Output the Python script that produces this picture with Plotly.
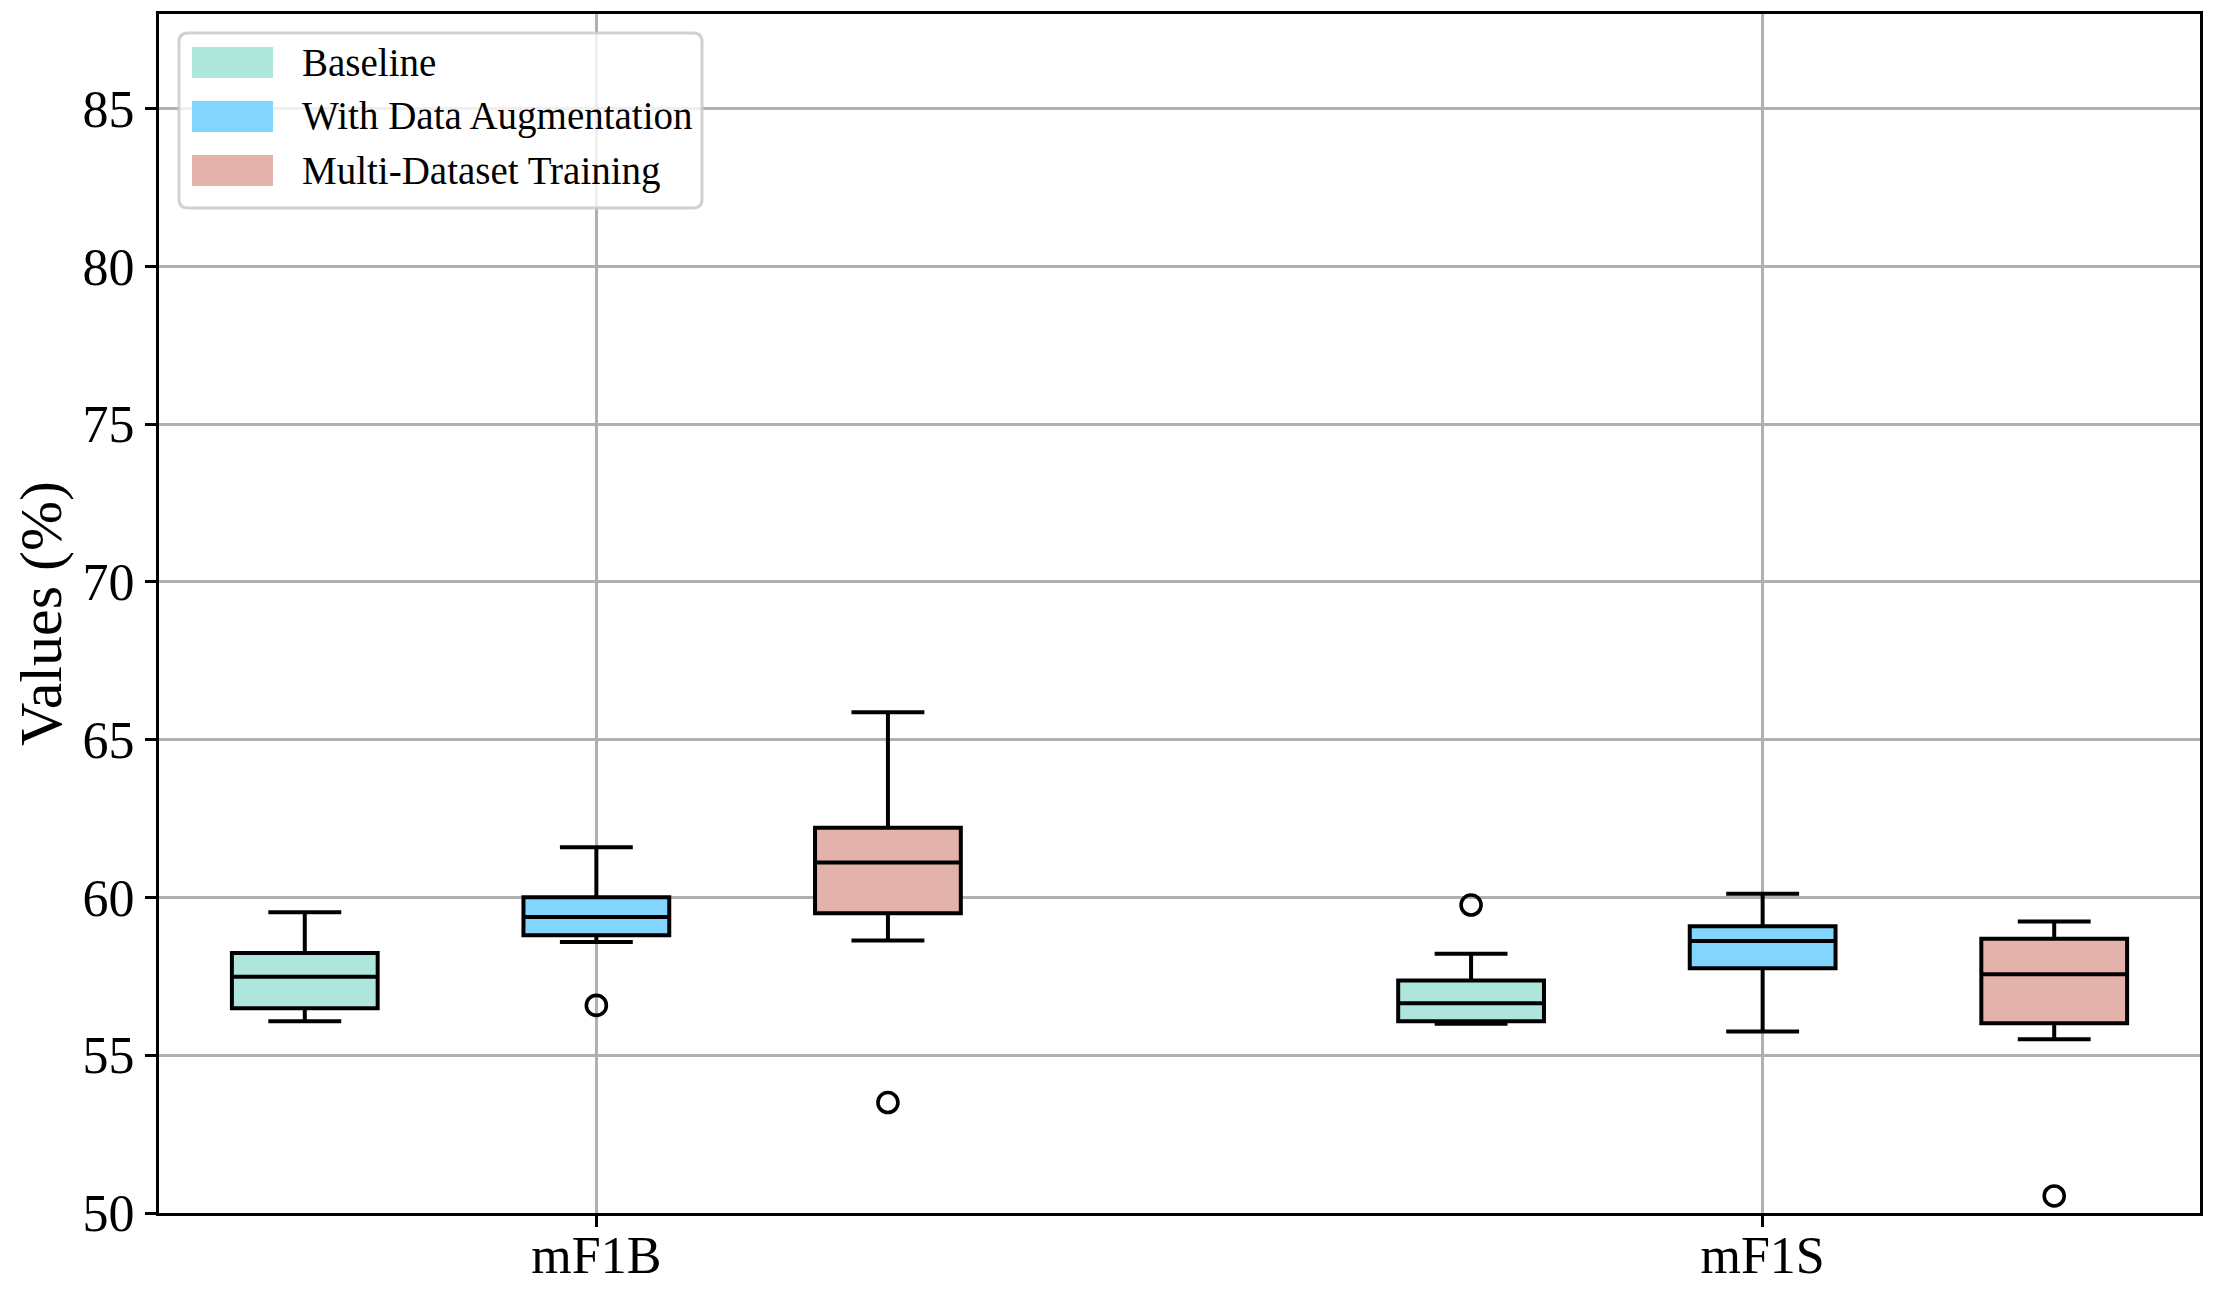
import plotly.graph_objects as go

# ---------------- data ----------------
groups = ["mF1B", "mF1S"]
series = ["Baseline", "With Data Augmentation", "Multi-Dataset Training"]

baseline_lower = [56.08, 56.00]
baseline_q1 = [56.49, 56.08]
baseline_median = [57.49, 56.65]
baseline_q3 = [58.24, 57.37]
baseline_upper = [59.53, 58.22]
baseline_outliers = [[], [59.76]]

aug_lower = [58.59, 55.75]
aug_q1 = [58.80, 57.76]
aug_median = [59.38, 58.62]
aug_q3 = [60.01, 59.09]
aug_upper = [61.59, 60.12]
aug_outliers = [[56.58], []]

multi_lower = [58.64, 55.51]
multi_q1 = [59.50, 56.01]
multi_median = [61.11, 57.57]
multi_q3 = [62.21, 58.69]
multi_upper = [65.87, 59.24]
multi_outliers = [[53.50], [50.54]]

y_ticks = [50, 55, 60, 65, 70, 75, 80, 85]

# ---------------- style ----------------
colors = ["#AFE6DC", "#83D5FE", "#E3B2AB"]
offsets = [-0.25, 0.0, 0.25]
FONT = "Liberation Serif"
PAGE_W, PAGE_H = 2215, 1295
BODY = 8                      # default body margin of the html page
W, H = PAGE_W - 2 * BODY, PAGE_H - 2 * BODY
# plot area in page pixels
PL, PR, PT, PB = 159, 2200, 14, 1213
ML, MR, MT, MB = PL - BODY, (BODY + W) - PR, PT - BODY, (BODY + H) - PB

stats = [
    (baseline_lower, baseline_q1, baseline_median, baseline_q3, baseline_upper, baseline_outliers),
    (aug_lower, aug_q1, aug_median, aug_q3, aug_upper, aug_outliers),
    (multi_lower, multi_q1, multi_median, multi_q3, multi_upper, multi_outliers),
]

fig = go.Figure()
for i, (name, (lo, q1, med, q3, up, outl)) in enumerate(zip(series, stats)):
    xs = [g + offsets[i] for g in range(len(groups))]
    fig.add_trace(go.Box(
        name=name,
        x=xs, q1=q1, median=med, q3=q3, lowerfence=lo, upperfence=up,
        width=0.125, whiskerwidth=0.5,
        fillcolor=colors[i],
        line=dict(color="black", width=4),
        boxpoints=False,
        showlegend=False,
    ))
    ox, oy = [], []
    for g, vals in enumerate(outl):
        for v in vals:
            ox.append(g + offsets[i])
            oy.append(v)
    if ox:
        fig.add_trace(go.Scatter(
            x=ox, y=oy, mode="markers",
            marker=dict(symbol="circle-open", size=20, color="black",
                        line=dict(color="black", width=3.6)),
            showlegend=False,
        ))

# ---------------- manual legend ----------------
def px(xp):
    return (xp - PL) / (PR - PL)

def py(yp):
    return (PB - yp) / (PB - PT)

# rounded legend frame
x0, x1, y0, y1, r = 179, 702, 33, 208, 9
path = (f"M {px(x0 + r)} {py(y0)} L {px(x1 - r)} {py(y0)} "
        f"Q {px(x1)} {py(y0)} {px(x1)} {py(y0 + r)} "
        f"L {px(x1)} {py(y1 - r)} Q {px(x1)} {py(y1)} {px(x1 - r)} {py(y1)} "
        f"L {px(x0 + r)} {py(y1)} Q {px(x0)} {py(y1)} {px(x0)} {py(y1 - r)} "
        f"L {px(x0)} {py(y0 + r)} Q {px(x0)} {py(y0)} {px(x0 + r)} {py(y0)} Z")
shapes = [dict(type="path", path=path, xref="paper", yref="paper",
               fillcolor="rgba(255,255,255,0.8)",
               line=dict(color="rgba(204,204,204,0.9)", width=3), layer="above")]
annotations = []
row_centers = [62.5, 116.5, 170.5]
for i, name in enumerate(series):
    yc = row_centers[i]
    shapes.append(dict(type="rect", xref="paper", yref="paper",
                       x0=px(192), x1=px(273), y0=py(yc - 15.5), y1=py(yc + 15.5),
                       fillcolor=colors[i], line=dict(width=0), layer="above"))
    annotations.append(dict(x=px(300), y=py(yc), xref="paper", yref="paper",
                            text=name, showarrow=False, xanchor="left", yanchor="middle",
                            font=dict(family=FONT, size=39, color="black")))

fig.update_layout(
    width=W, height=H,
    margin=dict(l=ML, r=MR, t=MT, b=MB, autoexpand=False),
    paper_bgcolor="white", plot_bgcolor="white",
    shapes=shapes, annotations=annotations,
    font=dict(family=FONT, color="black"),
)
fig.update_xaxes(
    range=[-0.375, 1.375], automargin=False,
    tickmode="array", tickvals=list(range(len(groups))), ticktext=groups,
    tickfont=dict(family=FONT, size=52, color="black"),
    ticks="outside", ticklen=11, tickwidth=2.5, tickcolor="black",
    ticklabelstandoff=-16,
    showgrid=True, gridcolor="#b0b0b0", gridwidth=2.5,
    showline=True, linecolor="black", linewidth=3, mirror=True,
    zeroline=False,
)
fig.update_yaxes(
    range=[50, 88], automargin=False,
    tickmode="array", tickvals=y_ticks,
    tickfont=dict(family=FONT, size=52, color="black"),
    ticks="outside", ticklen=11, tickwidth=2.5, tickcolor="black",
    showgrid=True, gridcolor="#b0b0b0", gridwidth=2.5,
    showline=True, linecolor="black", linewidth=3, mirror=True,
    zeroline=False,
    title=dict(text="Values (%)", font=dict(family=FONT, size=60, color="black"), standoff=18),
)

fig.write_html("out.html")
